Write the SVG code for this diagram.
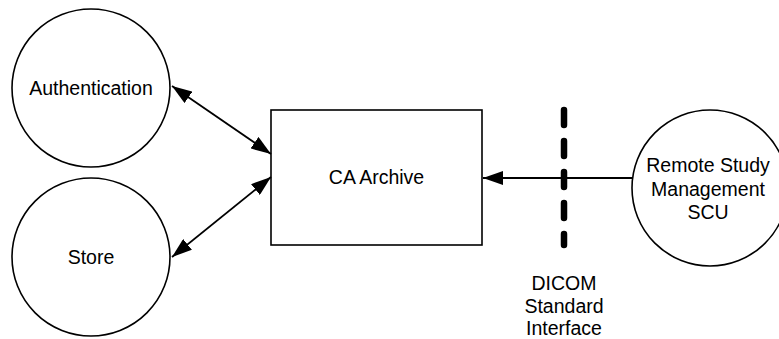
<svg xmlns="http://www.w3.org/2000/svg" width="779" height="339" viewBox="0 0 779 339">
  <style>
    .node { fill: #fff; stroke: #000; stroke-width: 1.6; }
    .label { font-family: "Liberation Sans", Arial, sans-serif; font-size: 19.5px; fill: #000; text-anchor: middle; }
    .conn { stroke: #000; stroke-width: 1.8; fill: none; }
  </style>
  <defs>
    <marker id="arrow" viewBox="0 0 20 14" refX="20" refY="7" markerWidth="20" markerHeight="14" markerUnits="userSpaceOnUse" orient="auto-start-reverse">
      <path d="M0,0 L20,7 L0,14 z" fill="#000"/>
    </marker>
  </defs>

  <rect width="779" height="339" fill="#fff"/>

  <g id="authentication">
    <circle class="node" cx="91" cy="88" r="79"/>
    <text class="label" x="91" y="95">Authentication</text>
  </g>

  <g id="store">
    <circle class="node" cx="91" cy="257" r="79"/>
    <text class="label" x="91" y="264">Store</text>
  </g>

  <g id="ca-archive">
    <rect class="node" x="271" y="110" width="211" height="135" stroke-width="2"/>
    <text class="label" x="376.5" y="184">CA Archive</text>
  </g>

  <g id="remote-scu">
    <circle class="node" cx="710" cy="188" r="78"/>
    <text class="label" x="708" y="172">Remote Study</text>
    <text class="label" x="708" y="195.5">Management</text>
    <text class="label" x="708" y="219">SCU</text>
  </g>

  <g id="connectors">
    <line class="conn" x1="172" y1="86" x2="271" y2="154" marker-start="url(#arrow)" marker-end="url(#arrow)"/>
    <line class="conn" x1="271" y1="177" x2="172" y2="257" marker-start="url(#arrow)" marker-end="url(#arrow)"/>
    <line class="conn" x1="632" y1="178" x2="483" y2="178" marker-end="url(#arrow)"/>
  </g>

  <g id="dicom-interface">
    <line x1="564" y1="110" x2="564" y2="245" stroke="#000" stroke-width="6.5" stroke-linecap="round" stroke-dasharray="15 16"/>
    <text class="label" x="564" y="290">DICOM</text>
    <text class="label" x="564" y="312.5">Standard</text>
    <text class="label" x="564" y="335">Interface</text>
  </g>
</svg>
